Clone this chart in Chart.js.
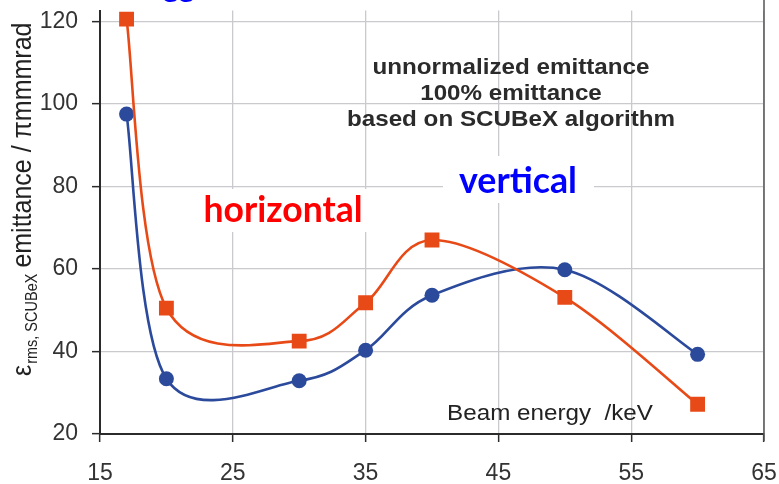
<!DOCTYPE html>
<html>
<head>
<meta charset="utf-8">
<script src="https://cdn.jsdelivr.net/npm/chart.js@4/dist/chart.umd.min.js"></script>
<style>
  html, body { margin: 0; padding: 0; background: #ffffff; }
  #wrap { width: 779px; height: 484px; position: relative; }
</style>
</head>
<body>
<div id="wrap"><canvas id="c"></canvas></div>
<script>
// Beam energy in keV and the rms emittance measured in each plane
const beamEnergy     = [17, 20, 30, 35, 40, 50, 60];
const horizontalEmit = [120.5, 50.5, 42.5, 51.8, 67.0, 53.1, 27.2];
const verticalEmit   = [97.5, 33.4, 32.9, 40.3, 53.6, 59.8, 39.3];

// Axis tick labels
const xTicks = [15, 25, 35, 45, 55, 65];
const yTicks = [20, 40, 60, 80, 100, 120];

// Annotation texts
const noteLines = ['unnormalized emittance', '100% emittance', 'based on SCUBeX algorithm'];
const xTitle = 'Beam energy  /keV';
const planeLabels = { horizontal: 'horizontal', vertical: 'vertical' };

const ORANGE = '#E84A17';
const BLUE = '#2B4A9C';
const AXIS = '#2b2b2b';
const GRID = '#c9c9ce';
const ARIAL = '"Liberation Sans", Arial, sans-serif';
const SANS = 'Lato, "Noto Sans", sans-serif';
const STRETCH = 1.1; // slightly wide lettering

// Pick a font size so the text spans a given width
function fitFont(ctx, text, weight, family, width) {
  ctx.font = weight + ' 20px ' + family;
  const w = ctx.measureText(text).width;
  return weight + ' ' + (20 * width / w).toFixed(2) + 'px ' + family;
}

// Centered text drawn a little wider than the font's natural width
function wideText(ctx, text, cx, y) {
  ctx.save();
  ctx.translate(cx, y);
  ctx.scale(STRETCH, 1);
  ctx.textAlign = 'center';
  ctx.fillText(text, 0, 0);
  ctx.restore();
}

// Spreadsheet-style smoothing: each control point sits a sixth of the
// neighbour-to-neighbour span away from its point (Catmull-Rom)
const smoothCurves = {
  id: 'smoothCurves',
  beforeDatasetsDraw(chart) {
    chart.data.datasets.forEach((ds, di) => {
      const meta = chart.getDatasetMeta(di);
      const pts = meta.data;
      const n = pts.length;
      for (let i = 0; i < n; i++) {
        const p = pts[i];
        const prev = pts[Math.max(0, i - 1)];
        const next = pts[Math.min(n - 1, i + 1)];
        const dx = (next.x - prev.x) / 6;
        const dy = (next.y - prev.y) / 6;
        p.cp1x = p.x - dx; p.cp1y = p.y - dy;
        p.cp2x = p.x + dx; p.cp2y = p.y + dy;
      }
      if (meta.dataset) meta.dataset._pointsUpdated = true;
    });
  }
};

const labelBoxes = {
  id: 'labelBoxes',
  beforeDatasetsDraw(chart) {
    const ctx = chart.ctx;
    ctx.save();
    ctx.textAlign = 'center';
    ctx.textBaseline = 'middle';
    // "horizontal" with a white box over the grid
    ctx.fillStyle = '#ffffff';
    ctx.fillRect(200, 189, 168, 43);
    ctx.fillStyle = '#FF0000';
    ctx.font = fitFont(ctx, planeLabels.horizontal, 'bold', SANS, 159);
    ctx.fillText(planeLabels.horizontal, 283, 211);
    // "vertical"
    ctx.fillStyle = '#ffffff';
    ctx.fillRect(443, 156, 151, 47);
    ctx.fillStyle = '#0000FF';
    ctx.font = fitFont(ctx, planeLabels.vertical, 'bold', SANS, 118);
    ctx.fillText(planeLabels.vertical, 518, 181);
    ctx.restore();
  },
  afterDraw(chart) {
    const ctx = chart.ctx;
    const area = chart.chartArea;
    ctx.save();
    // right frame line
    ctx.strokeStyle = '#555555';
    ctx.lineWidth = 1.5;
    ctx.beginPath();
    ctx.moveTo(area.right, 0);
    ctx.lineTo(area.right, area.bottom + 7);
    ctx.stroke();

    // note block
    ctx.fillStyle = '#2b2b2b';
    ctx.textBaseline = 'alphabetic';
    ctx.font = 'bold 22px ' + ARIAL;
    const noteY = [74, 100, 126];
    noteLines.forEach((t, i) => wideText(ctx, t, 511, noteY[i]));

    // x-axis title inside the plot
    ctx.fillStyle = '#222222';
    ctx.font = '22px ' + ARIAL;
    wideText(ctx, xTitle, 550, 420);

    // y-axis title, rotated, with subscript
    ctx.translate(31, 376);
    ctx.rotate(-Math.PI / 2);
    ctx.scale(1, STRETCH);
    ctx.textAlign = 'left';
    ctx.fillStyle = '#222222';
    ctx.font = '25px ' + ARIAL;
    ctx.fillText('\u03b5', 0, 0);
    let x = ctx.measureText('\u03b5').width + 1;
    ctx.font = '14.5px ' + ARIAL;
    ctx.fillText('rms, SCUBeX', x, 5);
    x += ctx.measureText('rms, SCUBeX').width + 6;
    ctx.font = '25px ' + ARIAL;
    ctx.fillText('emittance / \u03c0mmmrad', x, 0);
    ctx.restore();

    // clipped blue lettering at the very top
    ctx.save();
    ctx.fillStyle = '#0000FF';
    ctx.font = 'bold 30px ' + SANS;
    ctx.textAlign = 'left';
    ctx.textBaseline = 'alphabetic';
    ctx.fillText('gg', 163, -3);
    ctx.restore();
  }
};

new Chart(document.getElementById('c'), {
  type: 'scatter',
  data: {
    datasets: [
      {
        label: 'horizontal',
        data: beamEnergy.map((e, i) => ({ x: e, y: horizontalEmit[i] })),
        showLine: true,
        borderColor: ORANGE,
        backgroundColor: ORANGE,
        borderWidth: 2.6,
        tension: 0.4,
        pointStyle: 'rect',
        pointRadius: 10.5,
        pointHoverRadius: 10.5,
        pointBorderWidth: 0
      },
      {
        label: 'vertical',
        data: beamEnergy.map((e, i) => ({ x: e, y: verticalEmit[i] })),
        showLine: true,
        borderColor: BLUE,
        backgroundColor: BLUE,
        borderWidth: 2.6,
        tension: 0.4,
        pointStyle: 'circle',
        pointRadius: 7.5,
        pointHoverRadius: 7.5,
        pointBorderWidth: 0
      }
    ]
  },
  options: {
    responsive: true,
    maintainAspectRatio: false,
    animation: false,
    events: [],
    layout: { padding: { left: 0, right: 15, top: 6, bottom: 0 } },
    plugins: {
      legend: { display: false },
      tooltip: { enabled: false },
      title: { display: false }
    },
    scales: {
      x: {
        type: 'linear',
        min: 15,
        max: 65,
        afterBuildTicks: s => { s.ticks = xTicks.map(v => ({ value: v })); },
        afterFit: s => { s.height = 50; s.paddingLeft = 0; s.paddingRight = 0; },
        grid: { color: GRID, lineWidth: 1.3, tickLength: 8, tickColor: AXIS, tickWidth: 1.5 },
        border: { display: true, color: AXIS, width: 2 },
        ticks: {
          color: '#333333',
          font: { family: ARIAL, size: 23 },
          padding: 18,
          maxRotation: 0,
          callback: v => String(v)
        }
      },
      y: {
        type: 'linear',
        min: 20,
        max: 122.6,
        afterBuildTicks: s => { s.ticks = yTicks.map(v => ({ value: v })); },
        afterFit: s => { s.width = 100; s.paddingTop = 0; s.paddingBottom = 0; },
        grid: { color: GRID, lineWidth: 1.3, tickLength: 8, tickColor: AXIS, tickWidth: 1.5 },
        border: { display: true, color: AXIS, width: 2 },
        ticks: {
          color: '#333333',
          font: { family: ARIAL, size: 23 },
          padding: 14,
          callback: v => String(v)
        }
      }
    }
  },
  plugins: [smoothCurves, labelBoxes]
});
</script>
</body>
</html>
